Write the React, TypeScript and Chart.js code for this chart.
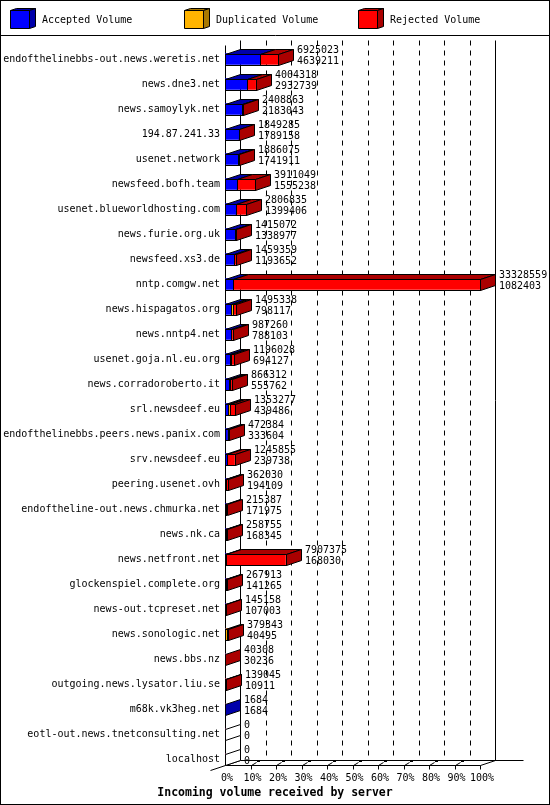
import { useEffect, useRef } from 'react';
import { Chart, registerables } from 'chart.js';

Chart.register(...registerables);

const servers = [
    'endofthelinebbs-out.news.weretis.net',
    'news.dne3.net',
    'news.samoylyk.net',
    '194.87.241.33',
    'usenet.network',
    'newsfeed.bofh.team',
    'usenet.blueworldhosting.com',
    'news.furie.org.uk',
    'newsfeed.xs3.de',
    'nntp.comgw.net',
    'news.hispagatos.org',
    'news.nntp4.net',
    'usenet.goja.nl.eu.org',
    'news.corradoroberto.it',
    'srl.newsdeef.eu',
    'endofthelinebbs.peers.news.panix.com',
    'srv.newsdeef.eu',
    'peering.usenet.ovh',
    'endoftheline-out.news.chmurka.net',
    'news.nk.ca',
    'news.netfront.net',
    'glockenspiel.complete.org',
    'news-out.tcpreset.net',
    'news.sonologic.net',
    'news.bbs.nz',
    'outgoing.news.lysator.liu.se',
    'm68k.vk3heg.net',
    'eotl-out.news.tnetconsulting.net',
    'localhost',
];

// first number printed next to each bar
const totalVolume = [
    6925023, 4004318, 2408863, 1849285, 1886075, 3911049, 2806835, 1415072, 1459359, 33328559,
    1495338, 987260, 1196028, 866312, 1353277, 472384, 1245855, 362030, 215387, 258755,
    7907375, 267913, 145158, 379343, 40308, 139045, 1684, 0, 0,
];

// second number printed next to each bar
const acceptedVolume = [
    4639211, 2932739, 2183043, 1789158, 1741911, 1555238, 1399406, 1338977, 1193652, 1082403,
    798117, 788103, 694127, 555762, 439486, 333604, 239738, 194109, 171975, 168345,
    168030, 141265, 107003, 40495, 30236, 10911, 1684, 0, 0,
];

// estimated from the thin yellow slices
const duplicatedVolume = [
    0, 0, 180000, 0, 0, 0, 0, 0, 0, 0,
    250000, 0, 150000, 150000, 150000, 0, 0, 0, 0, 0,
    0, 0, 0, 200000, 0, 0, 0, 0, 0,
];

const percentTicks = [0, 10, 20, 30, 40, 50, 60, 70, 80, 90, 100];

const seriesNames = ['Accepted Volume', 'Duplicated Volume', 'Rejected Volume'];
const frontColors = ['#0000ff', '#ffb400', '#ff0000'];
const darkColors = ['#0000aa', '#a87800', '#aa0000'];

const maxVolume = Math.max(...totalVolume);
const rejectedVolume = totalVolume.map((t, i) => t - acceptedVolume[i] - duplicatedVolume[i]);
const toPercent = (v: number) => (v / maxVolume) * 100;

const FONT = '"DejaVu Sans Mono", monospace';
const DX = 15;
const DY = -5;

const px = (v: number) => Math.round(v) + 0.5;

function line(ctx: CanvasRenderingContext2D, x1: number, y1: number, x2: number, y2: number) {
    ctx.beginPath();
    ctx.moveTo(px(x1), px(y1));
    ctx.lineTo(px(x2), px(y2));
    ctx.stroke();
}

function poly(ctx: CanvasRenderingContext2D, pts: number[][], fill: string) {
    ctx.beginPath();
    pts.forEach(([x, y], i) => (i ? ctx.lineTo(px(x), px(y)) : ctx.moveTo(px(x), px(y))));
    ctx.closePath();
    ctx.fillStyle = fill;
    ctx.fill();
    ctx.stroke();
}

const box3d = {
    id: 'box3d',
    beforeDatasetsDraw(chart: any) {
        const { ctx, chartArea, scales } = chart;
        const x = scales.x;
        const left = x.getPixelForValue(0);
        const right = x.getPixelForValue(100);
        const top = chartArea.top - 1.5;
        const floor = chartArea.bottom - 6.5;

        ctx.save();
        ctx.strokeStyle = '#000';
        ctx.lineWidth = 1;

        // walls and floor
        line(ctx, left, top, left, floor);
        line(ctx, left + DX, top + DY, left + DX, floor + DY);
        line(ctx, right + DX, top + DY, right + DX, floor + DY);
        line(ctx, left, floor, right, floor);
        line(ctx, right, floor, right + DX, floor + DY);
        line(ctx, left + DX, floor + DY, right + DX + 28, floor + DY);
        line(ctx, left + DX, floor + DY, left - DX, floor - DY);

        // back grid
        ctx.setLineDash([5, 5]);
        percentTicks.slice(1, -1).forEach((p) => {
            const gx = x.getPixelForValue(p) + DX;
            line(ctx, gx, top + DY, gx, floor + DY);
        });
        ctx.setLineDash([]);

        // little floor ticks
        percentTicks.slice(1).forEach((p) => {
            const tx = x.getPixelForValue(p);
            line(ctx, tx, floor, tx, floor + 4);
            if (p < 100) {
                line(ctx, tx, floor, tx + 5, floor - 3);
                ctx.fillStyle = '#000';
                ctx.fillRect(Math.round(tx) + 6, Math.round(floor) - 5, 3, 2);
            }
        });
        ctx.restore();
    },
    afterDatasetsDraw(chart: any) {
        const { ctx, scales } = chart;
        const left = scales.x.getPixelForValue(0);
        ctx.save();
        ctx.strokeStyle = '#000';
        ctx.lineWidth = 1;
        ctx.font = `10px ${FONT}`;
        ctx.textBaseline = 'middle';
        ctx.textAlign = 'left';

        servers.forEach((_, i) => {
            let yc = 0;
            let h = 11;
            let end = left;
            let last = -1;
            const segs: { x0: number; x1: number; d: number }[] = [];
            for (let d = 0; d < 3; d++) {
                const el = chart.getDatasetMeta(d).data[i];
                const p = el.getProps(['x', 'base', 'y', 'height'], true);
                yc = p.y;
                h = p.height;
                const raw = chart.data.datasets[d].data[i] as number;
                if (raw > 0) {
                    segs.push({ x0: Math.min(p.x, p.base), x1: Math.max(p.x, p.base), d });
                    end = Math.max(p.x, p.base);
                    last = d;
                }
            }
            const yT = Math.round(yc - h / 2);
            const yB = yT + h;

            segs.forEach((s) => {
                if (s.x1 - s.x0 >= 0.5) {
                    poly(ctx, [[s.x0, yT], [s.x0 + DX, yT + DY], [s.x1 + DX, yT + DY], [s.x1, yT]], darkColors[s.d]);
                    ctx.strokeRect(px(s.x0), px(yT), Math.round(s.x1) - Math.round(s.x0), h);
                }
            });
            poly(
                ctx,
                [[end, yT], [end + DX, yT + DY], [end + DX, yB + DY], [end, yB]],
                last >= 0 ? darkColors[last] : '#fff',
            );

            ctx.fillStyle = '#000';
            ctx.fillText(String(totalVolume[i]), Math.round(end) + DX + 4, yc - 8.5);
            ctx.fillText(String(acceptedVolume[i]), Math.round(end) + DX + 4, yc + 2);
        });
        ctx.restore();
    },
    afterDraw(chart: any) {
        const { ctx, width, height } = chart;
        ctx.save();
        ctx.strokeStyle = '#000';
        ctx.lineWidth = 1;
        ctx.strokeRect(0.5, 0.5, width - 1, height - 1);
        line(ctx, 0, 35, width, 35);

        ctx.font = `10px ${FONT}`;
        ctx.textBaseline = 'middle';
        ctx.textAlign = 'left';
        [10, 184, 358].forEach((bx, d) => {
            const by = 10;
            const w = 19;
            const hh = 18;
            poly(ctx, [[bx, by], [bx + 6, by - 2], [bx + w + 6, by - 2], [bx + w, by]], darkColors[d]);
            poly(ctx, [[bx + w, by], [bx + w + 6, by - 2], [bx + w + 6, by + hh - 2], [bx + w, by + hh]], darkColors[d]);
            poly(ctx, [[bx, by], [bx + w, by], [bx + w, by + hh], [bx, by + hh]], frontColors[d]);
            ctx.fillStyle = '#000';
            ctx.fillText(seriesNames[d], bx + 32, 20.5);
        });
        ctx.restore();
    },
};

export default function App() {
    const chartRef = useRef<HTMLCanvasElement>(null);
    const chartInstance = useRef<Chart | null>(null);

    useEffect(() => {
        if (!chartRef.current) return;
        if (chartInstance.current) chartInstance.current.destroy();

        const series = [acceptedVolume, duplicatedVolume, rejectedVolume];

        const config: any = {
            type: 'bar',
            data: {
                labels: servers,
                datasets: series.map((values, d) => ({
                    label: seriesNames[d],
                    data: values.map(toPercent),
                    backgroundColor: frontColors[d],
                    borderWidth: 0,
                    barThickness: 11,
                })),
            },
            options: {
                indexAxis: 'y',
                animation: false,
                responsive: true,
                maintainAspectRatio: false,
                events: [],
                layout: { padding: { left: 0, right: 0, top: 46.5, bottom: 0 } },
                plugins: {
                    legend: { display: false },
                    tooltip: { enabled: false },
                    title: {
                        display: true,
                        position: 'bottom',
                        text: 'Incoming volume received by server',
                        color: '#000',
                        font: { family: FONT, size: 11.5, weight: 'bold' },
                        padding: { top: 1.6, bottom: 5 },
                    },
                },
                scales: {
                    x: {
                        type: 'linear',
                        stacked: true,
                        min: 0,
                        max: 100,
                        afterBuildTicks: (scale: any) => {
                            scale.ticks = percentTicks.map((v) => ({ value: v }));
                        },
                        afterFit: (scale: any) => {
                            scale.height = 13;
                        },
                        ticks: {
                            callback: (v: number) => v + '%',
                            color: '#000',
                            font: { family: FONT, size: 10 },
                            padding: 1,
                            labelOffset: 2,
                            maxRotation: 0,
                            autoSkip: false,
                        },
                        grid: { display: false, drawTicks: false },
                        border: { display: false },
                    },
                    y: {
                        type: 'category',
                        stacked: true,
                        afterFit: (scale: any) => {
                            scale.width = 225;
                        },
                        ticks: {
                            color: '#000',
                            font: { family: FONT, size: 10 },
                            padding: 5,
                            autoSkip: false,
                        },
                        grid: { display: false, drawTicks: false },
                        border: { display: false },
                    },
                    // empty right-hand axis keeps room for the value labels
                    yRight: {
                        type: 'category',
                        position: 'right',
                        afterFit: (scale: any) => {
                            scale.width = 70;
                        },
                        ticks: { display: false },
                        grid: { display: false, drawTicks: false },
                        border: { display: false },
                    },
                },
            },
            plugins: [box3d],
        };

        chartInstance.current = new Chart(chartRef.current, config);

        return () => {
            if (chartInstance.current) {
                chartInstance.current.destroy();
                chartInstance.current = null;
            }
        };
    }, []);

    return (
        <div style={{ position: 'absolute', left: 0, top: 0, width: 550, height: 805, background: '#fff' }}>
            <canvas ref={chartRef} />
        </div>
    );
}
